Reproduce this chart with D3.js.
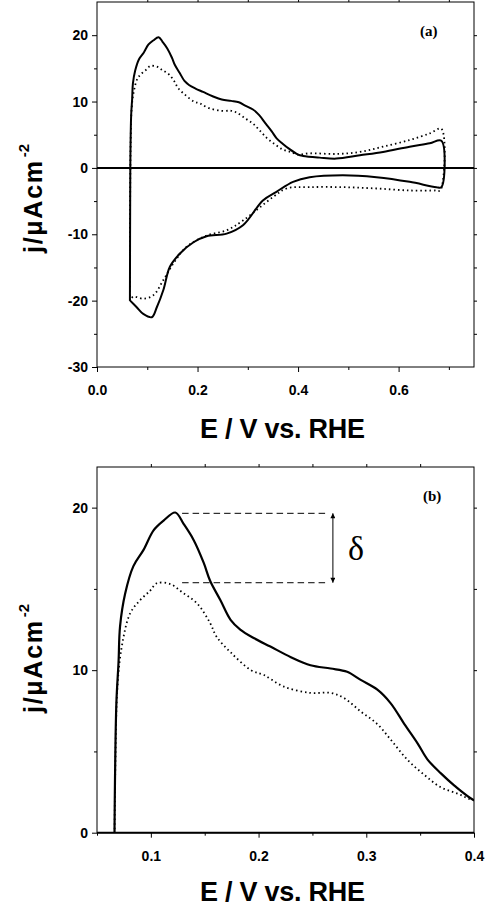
<!DOCTYPE html>
<html>
<head>
<meta charset="utf-8">
<script src="https://cdn.jsdelivr.net/npm/d3@7"></script>
<style>
  body { margin: 0; background: #fff; }
  svg { display: block; }
</style>
</head>
<body>
<svg id="chart" width="486" height="911"></svg>
<script>

// sweeps: [E (V vs. RHE), j (uA cm-2)]
const solidAnodic = [
    [0.0655, -20], [0.066, -5], [0.0665, 2], [0.068, 8], [0.070, 10.5], [0.0714, 12.7],
    [0.0761, 14.7], [0.0838, 16.4], [0.0932, 17.4], [0.1025, 18.6], [0.1118, 19.2],
    [0.1227, 19.7], [0.1304, 19.0], [0.1398, 18.0], [0.1491, 16.6], [0.155, 15.5],
    [0.1646, 14.3], [0.174, 13.1], [0.183, 12.5], [0.196, 11.96], [0.211, 11.45],
    [0.230, 10.8], [0.2482, 10.3], [0.2669, 10.1], [0.2822, 9.9], [0.2948, 9.4],
    [0.3103, 8.8], [0.3227, 7.96], [0.3352, 6.7], [0.3476, 5.5], [0.3569, 4.5],
    [0.3693, 3.65], [0.3818, 2.9], [0.400, 2.0], [0.410, 1.8], [0.443, 1.55],
    [0.476, 1.4], [0.523, 1.9], [0.569, 2.4], [0.622, 3.2], [0.662, 3.7], [0.685, 4.1]
]
const solidCathodic = [
    [0.685, -2.9], [0.675, -2.9], [0.622, -2.1], [0.556, -1.4], [0.489, -1.1],
    [0.423, -1.4], [0.390, -2.1], [0.357, -3.6], [0.330, -4.9], [0.291, -8.6],
    [0.258, -9.9], [0.218, -10.3], [0.192, -11.2], [0.165, -12.9], [0.145, -14.9],
    [0.132, -18.4], [0.119, -21.0], [0.109, -22.5], [0.092, -22.0], [0.079, -21.0],
    [0.066, -20.0]
]
const dottedAnodic = [
    [0.0655, -20], [0.066, -4], [0.067, 4], [0.069, 9], [0.073, 11.45], [0.0808, 13.5],
    [0.090, 14.3], [0.0994, 14.9], [0.1056, 15.35], [0.118, 15.3], [0.129, 14.8],
    [0.143, 14.1], [0.155, 12.9], [0.161, 12.06], [0.174, 11.1], [0.193, 10.0],
    [0.205, 9.7], [0.223, 9.0], [0.248, 8.6], [0.267, 8.6], [0.279, 8.3], [0.295, 7.45],
    [0.310, 6.7], [0.323, 5.7], [0.338, 4.5], [0.354, 3.55], [0.369, 2.8], [0.385, 2.4],
    [0.400, 2.0], [0.423, 2.2], [0.476, 2.1], [0.523, 2.4], [0.569, 3.2], [0.622, 4.2],
    [0.662, 5.2], [0.685, 5.9]
]
const dottedCathodic = [
    [0.683, -3.4], [0.675, -3.4], [0.622, -3.4], [0.556, -3.1], [0.489, -2.9],
    [0.423, -2.9], [0.377, -3.1], [0.350, -4.4], [0.291, -7.9], [0.258, -9.4],
    [0.218, -10.2], [0.178, -11.9], [0.152, -14.4], [0.132, -16.9], [0.112, -19.2],
    [0.092, -19.7], [0.072, -19.4], [0.066, -20]
]

// tick labels
const xTicksA = [0, 0.2, 0.4, 0.6]
const xMinorA = [0.1, 0.3, 0.5, 0.7]
const yTicksA = [-30, -20, -10, 0, 10, 20]
const yMinorA = [-25, -15, -5, 5, 15]
const xTicksB = [0.1, 0.2, 0.3, 0.4]
const xMinorB = [0.05, 0.15, 0.25, 0.35]
const yTicksB = [0, 10, 20]
const yMinorB = [5, 15]

// delta marker in panel (b): peak heights and span
const deltaLevels = [19.65, 15.38]
const deltaSpan = [0.129, 0.262]
const deltaArrowE = 0.269

const svg = d3.select('#chart')
const sans = 'Arial, "Liberation Sans", sans-serif'
const serif = '"Times New Roman", "Liberation Serif", serif'

svg.append('defs').append('marker')
    .attr('id', 'arrow')
    .attr('viewBox', '0 0 10 10')
    .attr('refX', 10).attr('refY', 5)
    .attr('markerWidth', 7).attr('markerHeight', 5)
    .attr('markerUnits', 'userSpaceOnUse')
    .attr('orient', 'auto-start-reverse')
    .append('path')
    .attr('d', 'M0,0 L10,5 L0,10 z')
    .attr('fill', '#000')

function styleAxis(g, labels) {
    g.select('.domain').remove()
    g.selectAll('line').attr('stroke', '#000').attr('stroke-width', 1)
    if (labels) {
        g.attr('font-family', sans).attr('font-size', 14).attr('font-weight', 'bold')
        g.selectAll('text').attr('fill', '#000')
    }
}

function drawPanel(p) {
    let x = d3.scaleLinear().domain(p.xDomain).range([p.left, p.right])
    let y = d3.scaleLinear().domain(p.yDomain).range([p.bottom, p.top])
    let g = svg.append('g')

    g.append('clipPath').attr('id', p.id + '-clip')
        .append('rect')
        .attr('x', p.left).attr('y', p.top)
        .attr('width', p.right - p.left).attr('height', p.bottom - p.top)

    // axes: labelled major ticks bottom/left, plain ticks everywhere else
    g.append('g').attr('transform', 'translate(0,' + p.bottom + ')')
        .call(d3.axisBottom(x).tickValues(p.xTicks).tickSize(5).tickPadding(13).tickFormat(p.xFormat))
        .call(styleAxis, true)
    g.append('g').attr('transform', 'translate(0,' + p.bottom + ')')
        .call(d3.axisBottom(x).tickValues(p.xMinor).tickSize(3).tickFormat(''))
        .call(styleAxis, false)
    g.append('g').attr('transform', 'translate(' + p.left + ',0)')
        .call(d3.axisLeft(y).tickValues(p.yTicks).tickSize(5).tickPadding(4).tickFormat(function (d) { return String(d) }))
        .call(styleAxis, true)
    g.append('g').attr('transform', 'translate(' + p.left + ',0)')
        .call(d3.axisLeft(y).tickValues(p.yMinor).tickSize(3).tickFormat(''))
        .call(styleAxis, false)
    g.append('g').attr('transform', 'translate(0,' + p.top + ')')
        .call(d3.axisTop(x).tickValues(p.xTicks.concat(p.xMinor).filter(function (v) { return v > p.xDomain[0] && v < p.xDomain[1] })).tickSize(3).tickFormat(''))
        .call(styleAxis, false)
    g.append('g').attr('transform', 'translate(' + p.right + ',0)')
        .call(d3.axisRight(y).tickValues(p.yTicks.concat(p.yMinor).filter(function (v) { return v > p.yDomain[0] && v < p.yDomain[1] })).tickSize(3).tickFormat(''))
        .call(styleAxis, false)

    // frame
    g.append('rect')
        .attr('x', p.left).attr('y', p.top)
        .attr('width', p.right - p.left).attr('height', p.bottom - p.top)
        .attr('fill', 'none').attr('stroke', '#000').attr('stroke-width', 1)

    // zero line
    g.append('line')
        .attr('x1', p.left).attr('x2', p.right)
        .attr('y1', y(0)).attr('y2', y(0))
        .attr('stroke', '#000').attr('stroke-width', 2)

    let line = d3.line()
        .x(function (d) { return x(d[0]) })
        .y(function (d) { return y(d[1]) })
        .curve(d3.curveCatmullRom.alpha(0.5))

    let plot = g.append('g').attr('clip-path', 'url(#' + p.id + '-clip)')

    plot.append('path')
        .datum(p.dotted)
        .attr('d', line)
        .attr('fill', 'none')
        .attr('stroke', '#000')
        .attr('stroke-width', 1.8)
        .attr('stroke-dasharray', '1.5 3')

    plot.append('path')
        .datum(p.solid)
        .attr('d', line)
        .attr('fill', 'none')
        .attr('stroke', '#000')
        .attr('stroke-width', p.solidWidth)
        .attr('stroke-linejoin', 'round')

    // panel letter
    g.append('text')
        .attr('x', p.letterPos[0]).attr('y', p.letterPos[1])
        .attr('font-family', serif).attr('font-weight', 'bold').attr('font-size', 15)
        .text(p.letter)

    // axis titles
    g.append('text')
        .attr('x', 200).attr('y', p.xTitleY)
        .attr('font-family', sans).attr('font-weight', 'bold').attr('font-size', 27)
        .attr('textLength', 165).attr('lengthAdjust', 'spacing')
        .text('E / V vs. RHE')

    let yt = g.append('text')
        .attr('transform', 'translate(42,' + p.yTitleStart + ') rotate(-90)')
        .attr('font-family', sans).attr('font-weight', 'bold').attr('font-size', 25)
    yt.append('tspan').attr('textLength', 92).attr('lengthAdjust', 'spacing').text('j/\u03bcAcm')
    yt.append('tspan').attr('dx', 2).attr('dy', -13).attr('font-size', 15).text('-2')

    return { x: x, y: y, g: g }
}

drawPanel({
    id: 'a', xDomain: [0, 0.75], yDomain: [-30, 25],
    left: 97, right: 474, top: 2, bottom: 367,
    xTicks: xTicksA, xMinor: xMinorA, yTicks: yTicksA, yMinor: yMinorA,
    xFormat: d3.format('.1f'),
    solid: solidAnodic.concat(solidCathodic),
    dotted: dottedAnodic.concat(dottedCathodic),
    solidWidth: 2,
    letter: '(a)', letterPos: [420, 36],
    xTitleY: 438, yTitleStart: 253
})

let b = drawPanel({
    id: 'b', xDomain: [0.05, 0.4], yDomain: [0, 22.5],
    left: 97, right: 474, top: 467, bottom: 832.7,
    xTicks: xTicksB, xMinor: xMinorB, yTicks: yTicksB, yMinor: yMinorB,
    xFormat: d3.format('.1f'),
    solid: solidAnodic,
    dotted: dottedAnodic,
    solidWidth: 2.2,
    letter: '(b)', letterPos: [423, 501],
    xTitleY: 901, yTitleStart: 713
})

// delta annotation between the two peaks
b.g.selectAll('.delta-line')
    .data(deltaLevels)
    .enter().append('line')
    .attr('class', 'delta-line')
    .attr('x1', b.x(deltaSpan[0])).attr('x2', b.x(deltaSpan[1]))
    .attr('y1', function (d) { return b.y(d) }).attr('y2', function (d) { return b.y(d) })
    .attr('stroke', '#000').attr('stroke-width', 1)
    .attr('stroke-dasharray', '6.5 4')

b.g.append('line')
    .attr('x1', b.x(deltaArrowE)).attr('x2', b.x(deltaArrowE))
    .attr('y1', b.y(deltaLevels[0])).attr('y2', b.y(deltaLevels[1]))
    .attr('stroke', '#000').attr('stroke-width', 1)
    .attr('marker-start', 'url(#arrow)').attr('marker-end', 'url(#arrow)')

b.g.append('text')
    .attr('x', b.x(deltaArrowE) + 15)
    .attr('y', b.y((deltaLevels[0] + deltaLevels[1]) / 2) + 12)
    .attr('font-family', serif).attr('font-size', 34)
    .text('\u03b4')

</script>
</body>
</html>
